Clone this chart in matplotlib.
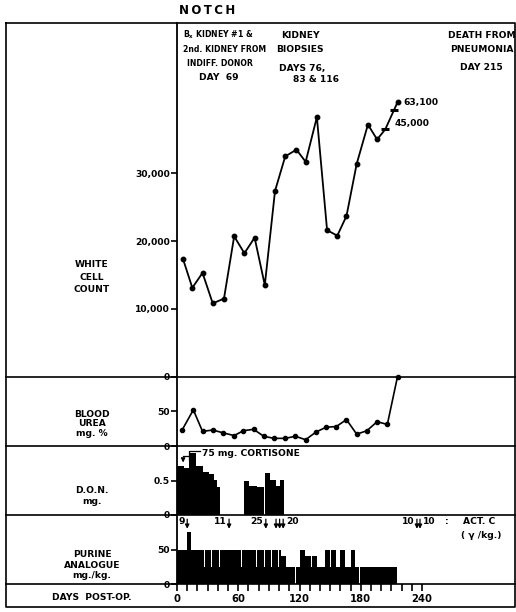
import matplotlib.pyplot as plt

plt.rcParams['font.family'] = ['DejaVu Sans']
plt.rcParams['font.weight'] = 'bold'
plt.rcParams['mathtext.default'] = 'bf'

# white cell count, one sample roughly every ten days
wbc_days = [6, 15, 25, 35, 46, 56, 66, 76, 86, 96, 106, 117, 126, 137, 147,
            157, 166, 176, 187, 196]
wbc_count = [17300, 13100, 15300, 10800, 11500, 20700, 18200, 20500, 13500,
             27400, 32500, 33500, 31700, 38300, 21600, 20800, 23700, 31400,
             37200, 35000]
# off-scale counts before death, drawn above a broken axis
tail_days = [204, 216]
tail_count = [45000, 63100]

# blood urea mg %
urea_days = [5, 16, 25, 35, 45, 56, 65, 75, 85, 95, 106, 116, 126, 136, 146,
             156, 166, 176, 186, 196, 206, 216]
urea_mg = [23, 52, 21, 23, 19, 15, 22, 24, 14, 11, 11, 14, 9, 20, 27, 28, 38,
           17, 22, 35, 31, 100]

# D.O.N. dose periods (start day, end day, mg)
don_start = [0, 7, 11.5, 19, 25, 31, 36, 39, 65.5, 71, 78.5, 86, 91, 97, 100.5]
don_end = [7, 11.5, 19, 25, 31, 36, 39, 42, 71, 78, 85, 91, 97, 100.5, 105]
don_mg = [0.71, 0.68, 0.90, 0.71, 0.62, 0.60, 0.51, 0.40, 0.50, 0.42, 0.40,
          0.61, 0.51, 0.42, 0.51]

# purine analogue dose periods (start day, end day, mg/kg)
pur_start = [0, 9.5, 13.5, 26.5, 27.5, 33.5, 34.5, 41, 42, 62.5, 63.5, 77.5,
             78.5, 85, 86, 92, 93, 98.5, 99.5, 102, 107, 117, 120.5, 125.7,
             131, 132, 137, 145, 150, 151, 156, 160, 165, 170, 174, 179.5]
pur_end = [9.5, 13.5, 26.5, 27.5, 33.5, 34.5, 41, 42, 62.5, 63.5, 77.5, 78.5,
           85, 86, 92, 93, 98.5, 99.5, 102, 107, 115.5, 120.5, 125, 131, 132,
           137, 145, 150, 151, 156, 160, 165, 170, 174, 178.5, 215]
pur_dose = [50, 75, 50, 25, 50, 25, 50, 25, 50, 25, 50, 25, 50, 25, 50, 25, 50,
            25, 50, 40, 25, 25, 50, 40, 25, 40, 25, 50, 25, 50, 25, 50, 25, 50,
            25, 25]

# actinomycin C doses (gamma/kg)
actc_days = [10, 51, 87, 97, 100.5, 104, 235, 238]
actc_dose = [9, 11, 25, 20, 20, 20, 10, 10]

W, H = 516, 612
X0, X1 = 177, 515
DAY_MAX = (X1 - X0) / 1.021
FS = 6.6
FS_SMALL = 5.6

fig = plt.figure(figsize=(W / 100, H / 100), dpi=100)

# full-figure pixel canvas for the frame, rules and row labels
bg = fig.add_axes([0, 0, 1, 1], zorder=0)
bg.set_xlim(0, W)
bg.set_ylim(H, 0)
bg.axis('off')


def box(top, bottom):
    return [X0 / W, 1 - bottom / H, (X1 - X0) / W, (bottom - top) / H]


def style(ax, ylim, ticks, labels):
    ax.patch.set_visible(False)
    ax.set_xlim(0, DAY_MAX)
    ax.set_ylim(*ylim)
    for s in ['top', 'right', 'bottom']:
        ax.spines[s].set_visible(False)
    ax.spines['left'].set_linewidth(1.3)
    ax.set_yticks(ticks)
    ax.set_yticklabels(labels)
    ax.tick_params(axis='y', direction='out', length=4, width=1.2, pad=1,
                   labelsize=FS)
    ax.tick_params(axis='x', bottom=False, labelbottom=False)


ax_wbc = fig.add_axes(box(23, 376.5), zorder=2)
ax_urea = fig.add_axes(box(376.5, 446), zorder=2)
ax_don = fig.add_axes(box(446, 515), zorder=2)
ax_pur = fig.add_axes(box(515, 584), zorder=2)

style(ax_wbc, (0, 52200), [0, 10000, 20000, 30000],
      ['0', '10,000', '20,000', '30,000'])
style(ax_urea, (0, 100), [0, 50], ['0', '50'])
style(ax_don, (0, 1.0), [0, 0.5], ['0', '0.5'])
style(ax_pur, (0, 100), [0, 50], ['0', '50'])

# frame and panel rules
lw = 1.2
for y in [376.5, 446, 515, 584]:
    bg.plot([6, 515], [y, y], color='k', lw=lw)
bg.plot([6, 515, 515, 6, 6], [23, 23, 607, 607, 23], color='k', lw=lw)

# white cell count
ax_wbc.plot(wbc_days, wbc_count, color='k', lw=1.3, marker='o', ms=3.2)


def squeeze(v):
    # compress counts above the axis break
    return 36500 + (v - 45000) * 0.221


tail_y = [squeeze(v) for v in tail_count]
ax_wbc.plot([wbc_days[-1], tail_days[0]], [wbc_count[-1], tail_y[0]],
            color='k', lw=1.3)
ax_wbc.plot(tail_days, tail_y, color='k', lw=1.3)
ax_wbc.plot(tail_days[1], tail_y[1], 'o', color='k', ms=3.2)
mid_day = tail_days[0] + 0.7 * (tail_days[1] - tail_days[0])
mid_y = tail_y[0] + 0.7 * (tail_y[1] - tail_y[0])
ax_wbc.plot([tail_days[0], mid_day], [tail_y[0], mid_y], '_', color='k',
            ms=6, mew=2.2)
ax_wbc.annotate(f'{tail_count[1]:,}', (tail_days[1], tail_y[1]),
                xytext=(4, 0), textcoords='offset points', va='center',
                fontsize=FS)
ax_wbc.annotate(f'{tail_count[0]:,}', (tail_days[0], tail_y[0]),
                xytext=(7, 4.5), textcoords='offset points', va='center',
                fontsize=FS)

# blood urea
ax_urea.plot(urea_days, urea_mg, color='k', lw=1.2, marker='o', ms=3,
             clip_on=False)

# D.O.N.
ax_don.bar(don_start, don_mg, width=[e - s for s, e in zip(don_start, don_end)],
           align='edge', color='k', linewidth=0)
ax_don.text(24, 0.89, '75 mg. CORTISONE', fontsize=FS, va='center')
ax_don.plot([23, 12, 12], [0.93, 0.93, 0.80], color='k', lw=0.9)
ax_don.annotate('', xy=(6, 0.72), xytext=(6, 0.86),
                arrowprops=dict(arrowstyle='-|>', color='k', lw=0.9,
                                mutation_scale=6))
ax_don.plot([6, 12], [0.86, 0.86], color='k', lw=0.9)

# purine analogue
ax_pur.bar(pur_start, pur_dose, width=[e - s for s, e in zip(pur_start, pur_end)],
           align='edge', color='k', linewidth=0)
ax_pur.spines['bottom'].set_visible(True)
ax_pur.spines['bottom'].set_linewidth(0)
ax_pur.set_xticks(range(0, 250, 10))
ax_pur.set_xticklabels([str(d) if d % 60 == 0 else '' for d in range(0, 250, 10)])
ax_pur.tick_params(axis='x', bottom=True, labelbottom=True, direction='out',
                   length=5, width=1.2, pad=2, labelsize=FS + 0.6)

# actinomycin C arrows
for d in actc_days:
    ax_pur.annotate('', xy=(d, 76), xytext=(d, 98), annotation_clip=False,
                    arrowprops=dict(arrowstyle='-|>', color='k', lw=0.9,
                                    mutation_scale=6))
for d, v, side in zip(actc_days, actc_dose, ['l', 'l', 'l', '', '', 'r', 'l', 'r']):
    if side == 'l':
        ax_pur.text(d - 2.5, 91, str(v), ha='right', va='center', fontsize=FS)
    elif side == 'r':
        ax_pur.text(d + 3, 91, str(v), ha='left', va='center', fontsize=FS)
ax_pur.text(264, 91, ':', ha='center', va='center', fontsize=FS)
ax_pur.text(280, 91, 'ACT. C', ha='left', va='center', fontsize=FS)
ax_pur.text(278, 70, '( \u03b3 /kg.)', ha='left', va='center', fontsize=FS)

# top notes
bg.text(207, 10, 'N\u2009O\u2009T\u2009C\u2009H', ha='center', va='center',
        fontsize=8.5)
bg.text(183, 35, r'B$_{x}$ KIDNEY #1 &', ha='left', va='center',
        fontsize=FS_SMALL)
bg.text(183, 50, '2nd. KIDNEY FROM', ha='left', va='center',
        fontsize=FS_SMALL)
bg.text(220, 64, 'INDIFF. DONOR', ha='center', va='center',
        fontsize=FS_SMALL)
bg.text(219, 78, 'DAY  69', ha='center', va='center', fontsize=FS)
bg.text(300, 35, 'KIDNEY', ha='center', va='center', fontsize=FS)
bg.text(300, 50, 'BIOPSIES', ha='center', va='center', fontsize=FS)
bg.text(279, 68, 'DAYS 76,', ha='left', va='center', fontsize=FS)
bg.text(293, 79, '83 & 116', ha='left', va='center', fontsize=FS)
bg.text(482, 35, 'DEATH FROM', ha='center', va='center', fontsize=FS)
bg.text(482, 50, 'PNEUMONIA', ha='center', va='center', fontsize=FS)
bg.text(481, 67, 'DAY 215', ha='center', va='center', fontsize=FS)

# row labels
bg.text(92, 277, 'WHITE\nCELL\nCOUNT', ha='center', va='center', fontsize=FS,
        linespacing=1.5)
bg.text(92, 424, 'BLOOD\nUREA\nmg. %', ha='center', va='center', fontsize=FS,
        linespacing=1.1)
bg.text(92, 496, 'D.O.N.\nmg.', ha='center', va='center', fontsize=FS,
        linespacing=1.3)
bg.text(92, 565, 'PURINE\nANALOGUE\nmg./kg.', ha='center', va='center',
        fontsize=FS, linespacing=1.2)
bg.text(92, 597, 'DAYS  POST-OP.', ha='center', va='center', fontsize=FS)

fig.savefig('out.png', dpi=100)
